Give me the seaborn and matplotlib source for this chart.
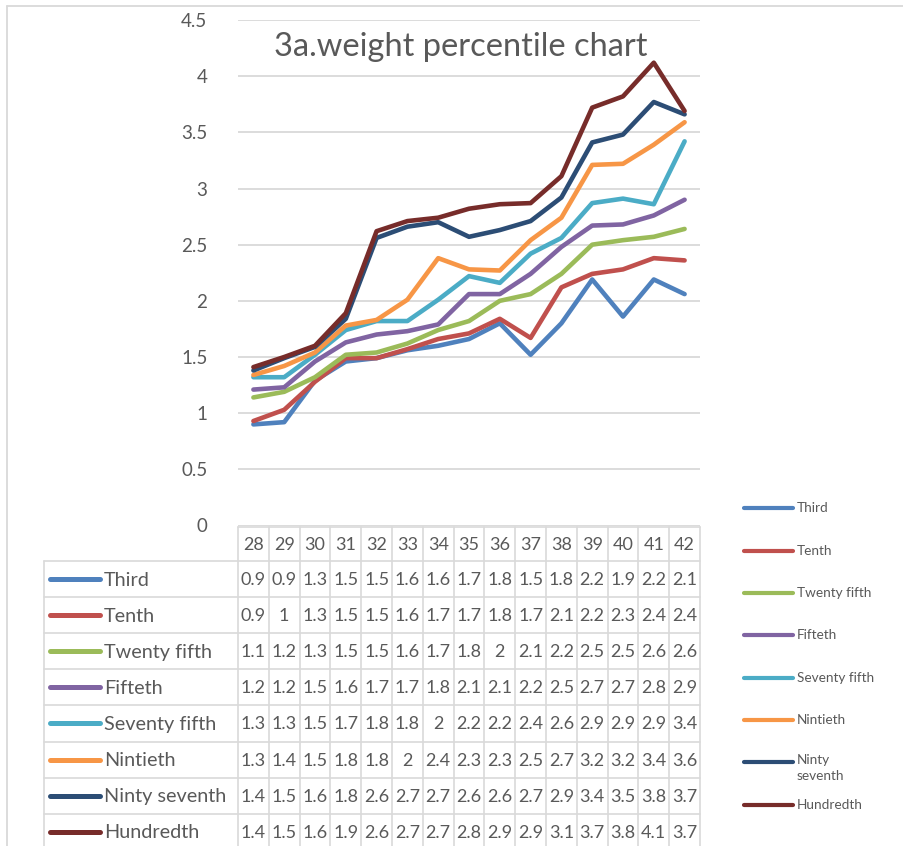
import matplotlib
matplotlib.use("Agg")
import matplotlib.pyplot as plt
from matplotlib.lines import Line2D
from matplotlib.transforms import blended_transform_factory
import pandas as pd
import seaborn as sns

# Gestational week (columns of the data table)
weeks = [28, 29, 30, 31, 32, 33, 34, 35, 36, 37, 38, 39, 40, 41, 42]

# Weight (kg) per percentile
third = [0.90, 0.92, 1.29, 1.46, 1.49, 1.56, 1.60, 1.66, 1.80, 1.52, 1.80, 2.19, 1.86, 2.19, 2.06]
tenth = [0.93, 1.03, 1.28, 1.49, 1.49, 1.57, 1.66, 1.71, 1.84, 1.67, 2.12, 2.24, 2.28, 2.38, 2.36]
twenty_fifth = [1.14, 1.19, 1.32, 1.52, 1.54, 1.62, 1.74, 1.82, 2.00, 2.06, 2.24, 2.50, 2.54, 2.57, 2.64]
fifteth = [1.21, 1.23, 1.46, 1.63, 1.70, 1.73, 1.79, 2.06, 2.06, 2.24, 2.48, 2.67, 2.68, 2.76, 2.90]
seventy_fifth = [1.32, 1.32, 1.52, 1.74, 1.82, 1.82, 2.01, 2.22, 2.16, 2.42, 2.56, 2.87, 2.91, 2.86, 3.42]
nintieth = [1.34, 1.42, 1.54, 1.78, 1.83, 2.01, 2.38, 2.28, 2.27, 2.54, 2.74, 3.21, 3.22, 3.39, 3.59]
ninty_seventh = [1.38, 1.49, 1.59, 1.84, 2.56, 2.66, 2.70, 2.57, 2.63, 2.71, 2.92, 3.41, 3.48, 3.77, 3.66]
hundredth = [1.41, 1.50, 1.60, 1.89, 2.62, 2.71, 2.74, 2.82, 2.86, 2.87, 3.11, 3.72, 3.82, 4.12, 3.69]

series_names = ["Third", "Tenth", "Twenty fifth", "Fifteth", "Seventy fifth",
                "Nintieth", "Ninty seventh", "Hundredth"]
series_values = [third, tenth, twenty_fifth, fifteth, seventy_fifth,
                 nintieth, ninty_seventh, hundredth]
colors = ["#4F81BD", "#C0504D", "#9BBB59", "#8064A2", "#4BACC6",
          "#F79646", "#2C4D75", "#772C2A"]

y_ticks = [0, 0.5, 1, 1.5, 2, 2.5, 3, 3.5, 4, 4.5]
title = "3a.weight percentile chart"

rows = []
for name, vals in zip(series_names, series_values):
    for w, v in zip(weeks, vals):
        rows.append({"week": w, "weight": v, "percentile": name})
df = pd.DataFrame(rows)

sns.set_style("white")
plt.rcParams["font.family"] = ["Lato", "DejaVu Sans"]

TEXT = "#595959"
GRID = "#D9D9D9"
W, H = 904, 846

fig = plt.figure(figsize=(W / 100, H / 100), dpi=100)
fig.patch.set_facecolor("white")


def fx(px):
    return px / W


def fy(py):
    return 1 - py / H


def hline(xa, xb, y, **kw):
    fig.add_artist(Line2D([fx(xa), fx(xb)], [fy(y), fy(y)], **kw))


def vline(x, ya, yb, **kw):
    fig.add_artist(Line2D([fx(x), fx(x)], [fy(ya), fy(yb)], **kw))


# plot area in pixel bounds
x0, x1, ytop, ybot = 238, 700, 20, 525.5
ax = fig.add_axes([fx(x0), fy(ybot), fx(x1) - fx(x0), fy(ytop) - fy(ybot)])

sns.lineplot(data=df, x="week", y="weight", hue="percentile",
             hue_order=series_names, palette=colors, linewidth=3.3,
             legend=False, ax=ax, zorder=3)

ax.set_xlim(weeks[0] - 0.5, weeks[-1] + 0.5)
ax.set_ylim(y_ticks[0], y_ticks[-1])
ax.set_yticks(y_ticks)
ax.set_yticklabels([f"{t:g}" for t in y_ticks], fontsize=13.5, color=TEXT)
ax.tick_params(axis="y", length=0, pad=22)
ax.set_xticks([])
ax.set_xlabel("")
ax.set_ylabel("")
ax.grid(axis="y", color=GRID, linewidth=1.3)
ax.set_axisbelow(True)
for s in ax.spines.values():
    s.set_visible(False)

fig.text(fx(461), fy(47), title, ha="center", va="center",
         fontsize=23.5, color=TEXT)

# outer chart frame (left and top edges)
vline(7, 6.5, H + 5, color=GRID, lw=1.3)
hline(7, W + 5, 6.5, color=GRID, lw=1.3)

# data table beneath the plot
tr = blended_transform_factory(ax.transData, fig.transFigure)
header_top = 527
header_bot = 561
row_h = 36.1
table_left = 44
col_edges = [w - 0.5 for w in weeks] + [weeks[-1] + 0.5]

for xe in col_edges:
    fig.add_artist(Line2D([xe, xe], [fy(header_top), 0], color=GRID, lw=1.2,
                          transform=tr))
hline(x0, x1, header_top, color=GRID, lw=1.2)
for i in range(len(series_names)):
    hline(table_left, x1, header_bot + i * row_h, color=GRID, lw=1.2)
vline(table_left, header_bot, H + 5, color=GRID, lw=1.2)

for w in weeks:
    fig.text(w, fy((header_top + header_bot) / 2 + 1), str(w),
             transform=tr, ha="center", va="center", fontsize=13, color=TEXT)


def cell_text(v):
    return f"{round(v, 1):g}"


for i, (name, vals, c) in enumerate(zip(series_names, series_values, colors)):
    yc = header_bot + i * row_h + row_h / 2
    hline(50, 100, yc, color=c, lw=3.6, solid_capstyle="round")
    fig.text(fx(104), fy(yc + 1), name, ha="left", va="center",
             fontsize=14.3, color=TEXT)
    for w, v in zip(weeks, vals):
        fig.text(w, fy(yc + 1), cell_text(v), transform=tr,
                 ha="center", va="center", fontsize=13, color=TEXT)

# side legend
legend_rows = [("Third", 508), ("Tenth", 551), ("Twenty fifth", 593),
               ("Fifteth", 635), ("Seventy fifth", 678), ("Nintieth", 720),
               ("Ninty\nseventh", 762), ("Hundredth", 805)]
for (lab, yy), c in zip(legend_rows, colors):
    hline(744, 793, yy, color=c, lw=3, solid_capstyle="round")
    if "\n" in lab:
        fig.text(fx(797), fy(yy - 8), lab, ha="left", va="top",
                 fontsize=9.8, color=TEXT, linespacing=1.35)
    else:
        fig.text(fx(797), fy(yy), lab, ha="left", va="center",
                 fontsize=9.8, color=TEXT)

fig.savefig("out.png", dpi=100, facecolor="white")
